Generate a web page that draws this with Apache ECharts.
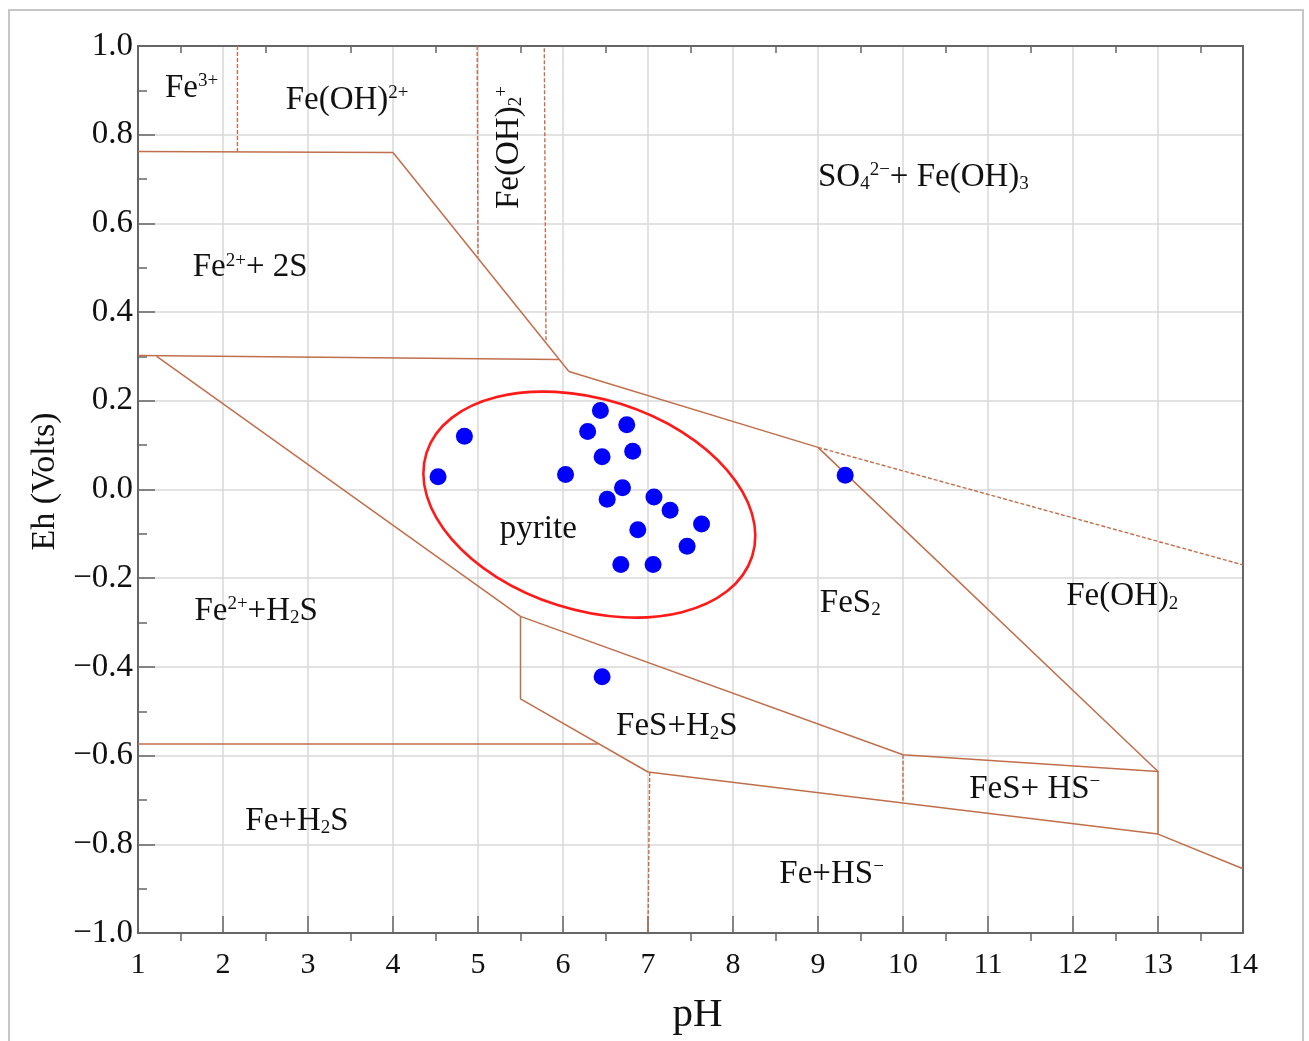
<!DOCTYPE html>
<html><head><meta charset="utf-8">
<script src="https://cdn.jsdelivr.net/npm/echarts@6/dist/echarts.min.js"></script>
<style>html,body{margin:0;padding:0;background:#fff}#c{width:1309px;height:1041px}</style>
</head><body><div id="c"></div>
<script>
// ---------- data ----------
const pHTicks = [1,2,3,4,5,6,7,8,9,10,11,12,13,14];
const ehTicks = [-1.0,-0.8,-0.6,-0.4,-0.2,0.0,0.2,0.4,0.6,0.8,1.0];

// sample points [pH, Eh]
const samplesPyrite = [
  [4.53,0.029],[4.84,0.120],[6.03,0.034],[6.44,0.178],[6.29,0.131],[6.75,0.146],
  [6.46,0.074],[6.82,0.086],[6.70,0.004],[6.52,-0.022],[7.07,-0.017],[7.26,-0.047],
  [7.63,-0.078],[6.88,-0.091],[7.46,-0.128],[6.68,-0.169],[7.06,-0.169]
];
const samplesOther = [[9.32,0.032],[6.46,-0.422]];

// stability-field boundaries [pH, Eh]
const solidBoundaries = [
  [[1,0.762],[4,0.760]],
  [[4,0.760],[6.07,0.266]],
  [[6.07,0.266],[9,0.095]],
  [[1,0.302],[5.95,0.293]],
  [[1.22,0.300],[5.5,-0.286]],
  [[5.5,-0.286],[10,-0.598],[13,-0.636]],
  [[5.5,-0.286],[5.5,-0.472],[7.0,-0.637],[13,-0.777],[14,-0.855]],
  [[9,0.095],[13,-0.636],[13,-0.777]],
  [[1,-0.574],[6.41,-0.574]]
];
const dashedBoundaries = [
  [[9,0.095],[14,-0.170]],
  [[2.17,1.0],[2.17,0.761]],
  [[4.99,1.0],[5.0,0.525]],
  [[5.78,0.995],[5.80,0.333]],
  [[10,-0.598],[10,-0.705]],
  [[7.02,-0.637],[7.0,-1.0]]
];

// pyrite field outline: centre pH, centre Eh, semi-axes (pH units), tilt (deg)
const pyriteEllipse = [[6.31,-0.034,2.01,1.24,17.6]];

// region labels: pH, Eh, rich text, rotated
const regionLabels = [
  [1.63, 0.905, 'Fe{sup|3+}', false],
  [3.46, 0.878, 'Fe(OH){sup|2+}', false],
  [5.37, 0.771, 'Fe(OH){sub|2}{sup|+}', true],
  [10.24, 0.705, 'SO{sub|4}{sup|2−}+ Fe(OH){sub|3}', false],
  [2.32, 0.500, 'Fe{sup|2+}+ 2S', false],
  [5.71, -0.090, 'pyrite', false],
  [2.39, -0.275, 'Fe{sup|2+}+H{sub|2}S', false],
  [9.38, -0.256, 'FeS{sub|2}', false],
  [12.58, -0.242, 'Fe(OH){sub|2}', false],
  [7.34, -0.535, 'FeS+H{sub|2}S', false],
  [11.55, -0.676, 'FeS+ HS{sup|−}', false],
  [2.87, -0.748, 'Fe+H{sub|2}S', false],
  [9.16, -0.868, 'Fe+HS{sup|−}', false]
];

// ---------- styles ----------
const SERIF = '"Liberation Serif","DejaVu Serif",serif';
const BROWN = '#c06e4b';
const AXIS = '#666666';
const GRIDC = '#d8d8d8';
const RICH = {
  sup: {fontFamily: SERIF, fontSize: 19, lineHeight: 18, verticalAlign: 'top', fill: '#111'},
  sub: {fontFamily: SERIF, fontSize: 19, lineHeight: 18, verticalAlign: 'bottom', fill: '#111'}
};

function fmtEh(v) {
  const r = Math.round(v * 10) / 10;
  if (Math.abs(r) < 1e-9) return '0.0';
  return (r < 0 ? '\u2212' : '') + Math.abs(r).toFixed(1);
}

const series = [];
solidBoundaries.forEach(seg => series.push({
  type: 'line', data: seg, showSymbol: false, silent: true, z: 3,
  lineStyle: {color: BROWN, width: 1.5, type: 'solid'}
}));
dashedBoundaries.forEach(seg => series.push({
  type: 'line', data: seg, showSymbol: false, silent: true, z: 3,
  lineStyle: {color: BROWN, width: 1.4, type: [4, 2]}
}));
series.push({
  type: 'custom', data: pyriteEllipse, encode: {x: 0, y: 1}, silent: true, z: 4,
  renderItem: (params, api) => {
    const c = api.coord([api.value(0), api.value(1)]);
    const unit = api.size([1, 0])[0];
    return {
      type: 'ellipse', x: c[0], y: c[1], rotation: -api.value(4) * Math.PI / 180,
      shape: {cx: 0, cy: 0, rx: api.value(2) * unit, ry: api.value(3) * unit},
      style: {fill: 'none', stroke: '#ff1a1a', lineWidth: 2.6}
    };
  }
});
series.push({
  type: 'scatter', data: samplesPyrite.concat(samplesOther), symbolSize: 17, z: 6,
  itemStyle: {color: '#0000ff', opacity: 1}
});
series.push({
  type: 'custom', data: regionLabels.map(l => [l[0], l[1]]), encode: {x: 0, y: 1}, silent: true, z: 7,
  renderItem: (params, api) => {
    const L = regionLabels[params.dataIndex];
    const p = api.coord([L[0], L[1]]);
    return {
      type: 'text', x: p[0], y: p[1], rotation: L[3] ? Math.PI / 2 : 0,
      style: {text: L[2], fontFamily: SERIF, fontSize: 33, fill: '#111',
        align: 'center', verticalAlign: 'middle', rich: RICH}
    };
  }
});

const chart = echarts.init(document.getElementById('c'), null, {renderer: 'canvas'});
chart.setOption({
  animation: false,
  backgroundColor: '#fff',
  graphic: [{type: 'rect', silent: true, z: -10,
    shape: {x: 9, y: 10, width: 1294, height: 1045},
    style: {fill: 'none', stroke: '#c6c6c6', lineWidth: 2}}],
  grid: {left: 138, right: 66, top: 46, bottom: 107, containLabel: false},
  xAxis: [{
    type: 'value', min: pHTicks[0], max: pHTicks[pHTicks.length - 1], interval: 1, position: 'bottom',
    axisLine: {show: true, onZero: false, lineStyle: {color: AXIS, width: 2}},
    axisTick: {show: true, inside: true, length: 17, lineStyle: {color: AXIS, width: 1.5}},
    minorTick: {show: true, splitNumber: 2, length: -8, lineStyle: {color: AXIS, width: 1.5}},
    axisLabel: {fontFamily: SERIF, fontSize: 30, color: '#111', margin: 17,
      formatter: v => pHTicks.includes(v) ? String(v) : ''},
    splitLine: {show: true, lineStyle: {color: GRIDC, width: 1.5}},
    name: 'pH', nameLocation: 'middle', nameGap: 62,
    nameTextStyle: {fontFamily: SERIF, fontSize: 41, color: '#111', padding: [0, 0, 0, 14]}
  }, {
    type: 'value', min: pHTicks[0], max: pHTicks[pHTicks.length - 1], interval: 1, position: 'top',
    axisLine: {show: true, onZero: false, lineStyle: {color: AXIS, width: 2}},
    axisTick: {show: false, inside: true, length: 0},
    minorTick: {show: true, splitNumber: 2, length: 7, lineStyle: {color: AXIS, width: 1.5}},
    axisLabel: {show: false}, splitLine: {show: false}
  }],
  yAxis: [{
    type: 'value', min: ehTicks[0], max: ehTicks[ehTicks.length - 1], interval: 0.2, position: 'left',
    axisLine: {show: true, onZero: false, lineStyle: {color: AXIS, width: 2}},
    axisTick: {show: true, inside: true, length: 17, lineStyle: {color: AXIS, width: 1.5}},
    minorTick: {show: true, splitNumber: 2, length: 9, lineStyle: {color: AXIS, width: 1.5}},
    axisLabel: {fontFamily: SERIF, fontSize: 33, color: '#111', margin: 5, formatter: fmtEh},
    splitLine: {show: true, lineStyle: {color: GRIDC, width: 1.5}},
    name: 'Eh (Volts)', nameLocation: 'middle', nameGap: 70,
    nameTextStyle: {fontFamily: SERIF, fontSize: 34, color: '#111', padding: [0, 0, 0, 16]}
  }, {
    type: 'value', min: ehTicks[0], max: ehTicks[ehTicks.length - 1], interval: 0.2, position: 'right',
    axisLine: {show: true, onZero: false, lineStyle: {color: AXIS, width: 2}},
    axisTick: {show: false}, axisLabel: {show: false}, splitLine: {show: false}
  }],
  series: series
});
</script></body></html>
